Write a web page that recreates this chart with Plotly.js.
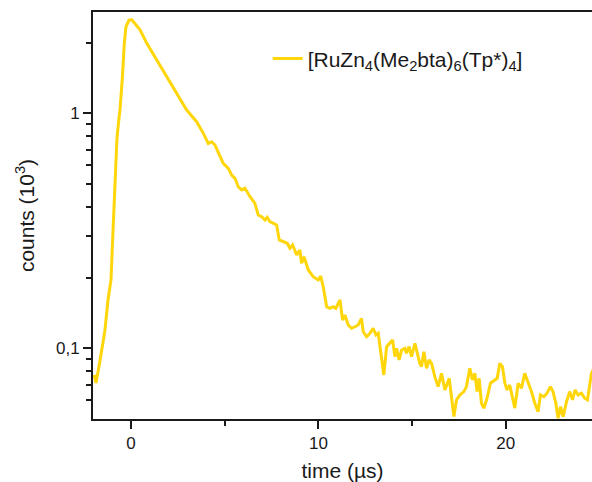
<!DOCTYPE html>
<html>
<head>
<meta charset="utf-8">
<script src="https://cdn.plot.ly/plotly-3.0.1.min.js"></script>
<style>html,body{margin:0;padding:0;background:#fff;}#chart{width:592px;height:482px;}</style>
</head>
<body>
<div id="chart"></div>
<script>
// time (µs)
const time = [
 -1.97,-1.87,-1.65,-1.39,-1.23,-1.07,-0.96,-0.85,-0.75,-0.67,-0.59,-0.46,-0.36,-0.27,-0.11,0.04,
 0.21,0.48,0.84,1.37,1.90,2.44,2.97,3.50,3.86,4.12,4.30,4.48,4.66,4.92,5.19,5.37,5.55,5.72,
 5.90,6.08,6.35,6.61,6.79,6.97,7.15,7.27,7.41,7.59,7.77,7.91,8.12,8.34,8.48,8.62,8.84,9.01,
 9.10,9.23,9.46,9.72,9.99,10.12,10.26,10.44,10.61,10.79,10.93,11.15,11.29,11.41,11.59,11.77,
 11.95,12.12,12.30,12.39,12.57,12.75,12.92,13.07,13.19,13.37,13.49,13.64,13.81,13.96,14.08,
 14.17,14.31,14.44,14.61,14.70,14.84,14.97,15.15,15.27,15.41,15.50,15.63,15.77,15.91,16.04,
 16.21,16.39,16.57,16.75,16.98,17.10,17.23,17.37,17.55,17.76,17.90,18.08,18.22,18.35,18.47,
 18.58,18.70,18.83,19.00,19.18,19.41,19.54,19.68,19.82,19.95,20.07,20.21,20.36,20.48,20.66,
 20.84,21.01,21.19,21.37,21.55,21.72,21.85,22.03,22.20,22.38,22.52,22.67,22.79,22.92,23.06,
 23.24,23.41,23.56,23.70,23.86,24.04,24.21,24.36,24.48,24.57,24.70
];
// counts (10^3)
const counts = [
 0.0770,0.0712,0.0892,0.1197,0.1605,0.1953,0.3187,0.520,0.785,0.91,1.033,1.431,1.986,2.336,2.495,2.50,
 2.415,2.266,1.986,1.686,1.431,1.216,1.033,0.921,0.822,0.745,0.757,0.733,0.676,0.6126,0.583,0.546,0.529,0.487,
 0.472,0.480,0.4418,0.414,0.369,0.363,0.3515,0.361,0.3457,0.3403,0.3347,0.2890,0.2842,0.2798,0.2664,0.2752,0.2495,0.2620,
 0.2300,0.2454,0.2154,0.2017,0.1953,0.2031,0.1824,0.1503,0.1480,0.1503,0.1480,0.1605,0.1319,0.1385,0.1256,0.1216,
 0.1235,0.1256,0.1341,0.1176,0.1120,0.1158,0.1216,0.1139,0.1158,0.0921,0.0770,0.1016,0.1050,0.1085,0.0921,
 0.1000,0.0892,0.0984,0.1000,0.0952,0.1016,0.0921,0.1050,0.0967,0.0863,0.0835,0.0967,0.0822,0.0892,0.0863,
 0.0757,0.0687,0.0782,0.0665,0.0745,0.0622,0.0512,0.0603,0.0633,0.0654,0.0687,0.0822,0.0733,0.0782,0.0654,
 0.0745,0.0583,0.0556,0.0613,0.0710,0.0733,0.0745,0.0863,0.0835,0.0710,0.0665,0.0698,0.0622,0.0556,0.0710,
 0.0676,0.0782,0.0721,0.0654,0.0583,0.0537,0.0633,0.0622,0.0644,0.0687,0.0654,0.0583,0.0504,0.0564,0.0512,
 0.0593,0.0654,0.0603,0.0665,0.0633,0.0644,0.0613,0.0603,0.0698,0.0782,0.0820
];
const seriesName = "[RuZn<sub>4</sub>(Me<sub>2</sub>bta)<sub>6</sub>(Tp*)<sub>4</sub>]";
const yTickVals = [0.1, 1];
const yTickText = ["0,1", "1"];
const yMinorVals = [0.06,0.07,0.08,0.09,0.2,0.3,0.4,0.5,0.6,0.7,0.8,0.9,2];
const xTickVals = [0, 10, 20];
const xMinorVals = [5, 15];

const font = "Liberation Sans, Arial, sans-serif";
const trace = {
  x: time, y: counts, type: "scatter", mode: "lines", name: seriesName,
  line: {color: "#FFD60A", width: 3, shape: "linear"}
};
const layout = {
  width: 592, height: 482,
  margin: {l: 93, r: 0, t: 12, b: 63},
  paper_bgcolor: "#fff", plot_bgcolor: "#fff",
  font: {family: font, color: "#1a1a1a", size: 16},
  showlegend: true,
  legend: {x: 0.35, y: 0.885, xanchor: "left", yanchor: "middle", bgcolor: "rgba(0,0,0,0)",
           font: {family: font, size: 21, color: "#1a1a1a"}},
  xaxis: {
    range: [-2.03, 24.6], showgrid: false, zeroline: false,
    tickmode: "array", tickvals: xTickVals, ticktext: xTickVals.map(String),
    ticks: "outside", ticklen: 8, tickwidth: 2, tickcolor: "#1a1a1a",
    minor: {tickmode: "array", tickvals: xMinorVals, ticks: "outside", ticklen: 5, tickwidth: 2, tickcolor: "#1a1a1a"},
    showline: true, linecolor: "#1a1a1a", linewidth: 2, mirror: true,
    tickfont: {size: 17},
    title: {text: "time (µs)", font: {size: 21}, standoff: 12}
  },
  yaxis: {
    type: "log", range: [Math.log10(0.05), Math.log10(2.7)], showgrid: false, zeroline: false,
    tickmode: "array", tickvals: yTickVals, ticktext: yTickText,
    ticks: "outside", ticklen: 8, tickwidth: 2, tickcolor: "#1a1a1a",
    minor: {tickmode: "array", tickvals: yMinorVals, ticks: "outside", ticklen: 5, tickwidth: 2, tickcolor: "#1a1a1a"},
    showline: true, linecolor: "#1a1a1a", linewidth: 2, mirror: false,
    tickfont: {size: 17},
    title: {text: "counts (10<sup>3</sup>)", font: {size: 21}, standoff: 16}
  }
};
Plotly.newPlot("chart", [trace], layout, {displayModeBar: false, staticPlot: true});
</script>
</body>
</html>
